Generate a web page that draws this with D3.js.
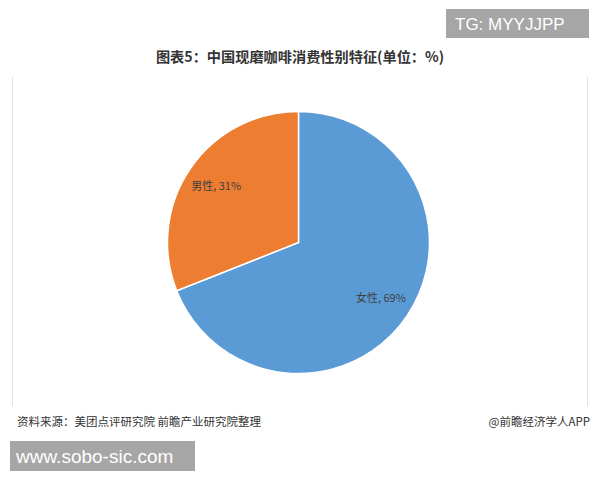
<!DOCTYPE html>
<html><head><meta charset="utf-8">
<script src="https://cdn.jsdelivr.net/npm/d3@7"></script>
<style>body{margin:0;background:#fff;}svg{display:block;}</style>
</head><body>
<script>
const categories = ["女性", "男性"];
const values = [69, 31];
const colors = ["#5b9bd5", "#ed7d31"];
const title = "图表5：中国现磨咖啡消费性别特征(单位：%)";
const source = "资料来源：美团点评研究院 前瞻产业研究院整理";
const credit = "@前瞻经济学人APP";

const W = 600, H = 480;
const svg = d3.select("body").append("svg").attr("width", W).attr("height", H);
const font = "'Noto Sans CJK SC', 'Noto Sans', sans-serif";

// top-right grey tag
svg.append("rect").attr("x", 446).attr("y", 9).attr("width", 143).attr("height", 29).attr("fill", "#a6a6a6");
svg.append("text").attr("x", 455).attr("y", 30).attr("fill", "#fff")
  .attr("font-family", "'Liberation Sans', Arial, sans-serif").attr("font-size", 17).text("TG: MYYJJPP");

// title
svg.append("text").attr("x", 300).attr("y", 62).attr("text-anchor", "middle")
  .attr("font-family", font).attr("font-weight", "bold").attr("font-size", 14.2).attr("fill", "#333")
  .text(title);

// frame side lines
svg.append("line").attr("x1", 12.5).attr("x2", 12.5).attr("y1", 77).attr("y2", 406).attr("stroke", "#e3e3e3");
svg.append("line").attr("x1", 587.5).attr("x2", 587.5).attr("y1", 77).attr("y2", 406).attr("stroke", "#e3e3e3");

// pie
const cx = 298.5, cy = 242.5, R = 131;
const pie = d3.pie().sort(null).value(d => d.v);
const data = categories.map((c, i) => ({c, v: values[i], col: colors[i]}));
const arcs = pie(data);
const arc = d3.arc().innerRadius(0).outerRadius(R);
const labelArc = d3.arc().innerRadius(R * 0.76).outerRadius(R * 0.76);
const g = svg.append("g").attr("transform", `translate(${cx},${cy})`);
g.selectAll("path").data(arcs).join("path")
  .attr("d", arc).attr("fill", d => d.data.col)
  .attr("stroke", "#fff").attr("stroke-width", 1.5);
g.selectAll("text").data(arcs).join("text")
  .attr("transform", d => `translate(${labelArc.centroid(d)})`)
  .attr("text-anchor", "middle").attr("dy", "0.35em")
  .attr("font-family", font).attr("font-size", 11).attr("fill", "#404040")
  .text(d => `${d.data.c}, ${d.data.v}%`);

// footer
svg.append("text").attr("x", 17).attr("y", 426).attr("font-family", font).attr("font-size", 11.5).attr("fill", "#333").text(source);
svg.append("text").attr("x", 590).attr("y", 426).attr("text-anchor", "end").attr("font-family", font).attr("font-size", 11.5).attr("fill", "#333").text(credit);

// bottom grey tag
svg.append("rect").attr("x", 10).attr("y", 441).attr("width", 185).attr("height", 30).attr("fill", "#a6a6a6");
svg.append("text").attr("x", 16).attr("y", 463).attr("fill", "#fff")
  .attr("font-family", "'Liberation Sans', Arial, sans-serif").attr("font-size", 19).text("www.sobo-sic.com");
</script>
</body></html>
